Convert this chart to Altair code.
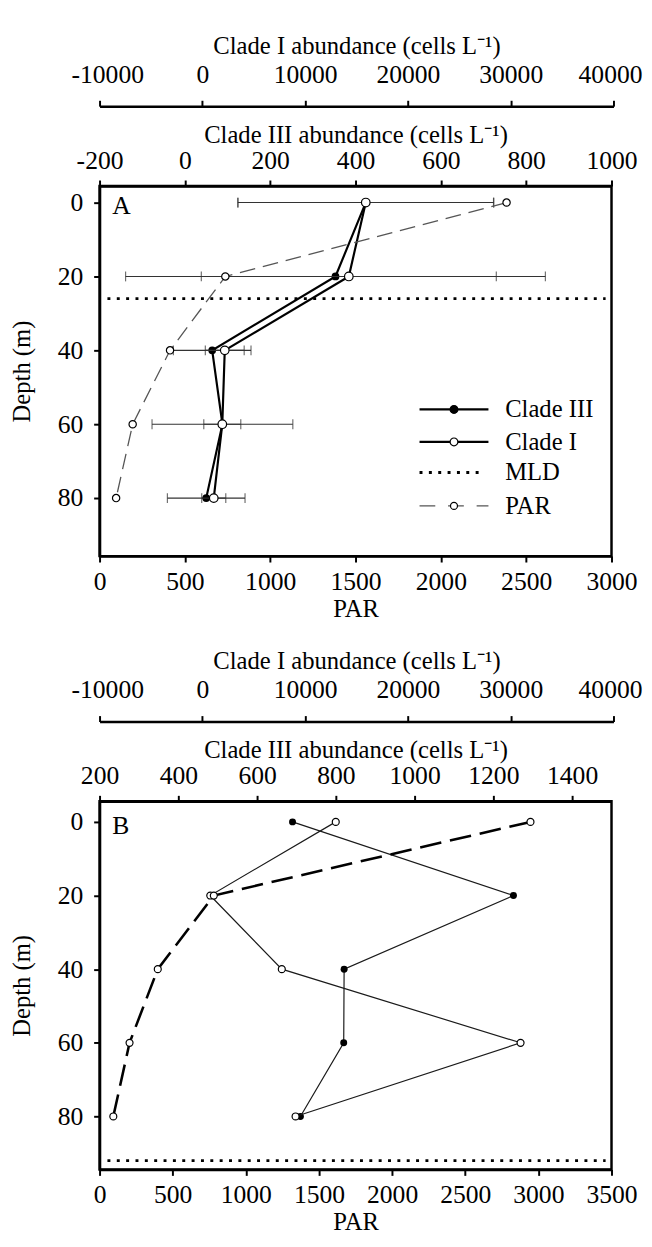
import altair as alt
import pandas as pd

# ---------------- data ----------------
depth = [0, 20, 40, 60, 80]

# Panel A
a_clade3 = [424, 353, 64, 88, 50]
a_clade3_sd = [300, 492, 91, 165, 91]
a_clade1 = [15900, 14250, 2180, 1940, 1110]
a_clade1_sd = [12430, 14350, 1890, 1800, 1170]
a_par = [2385, 737, 413, 194, 97]
a_mld = [26]

# Panel B
b_clade3 = [690, 1251, 821, 820, 710]
b_clade1 = [12980, 770, 7730, 30960, 9070]
b_par = [2946, 781, 398, 205, 94]
b_mld = [92]

clade1_ticks = [-10000, 0, 10000, 20000, 30000, 40000]
a_clade3_ticks = [-200, 0, 200, 400, 600, 800, 1000]
b_clade3_ticks = [200, 400, 600, 800, 1000, 1200, 1400]
a_par_ticks = [0, 500, 1000, 1500, 2000, 2500, 3000]
b_par_ticks = [0, 500, 1000, 1500, 2000, 2500, 3000, 3500]
depth_ticks = [0, 20, 40, 60, 80]
legend_names = ["Clade III", "Clade I", "MLD", "PAR"]

FONT = "Liberation Serif"
LSIZE = 26
TSIZE = 25
W = 520
CI_RANGE = 522
LBL = "'' + datum.value"


def panel(letter, letter_y, c3, c3sd, c1, c1sd, par, mld, c3dom, c3ticks, pardom,
          particks, ydom, height, thin, legend):
    ysc = alt.Scale(domain=ydom, reverse=True, nice=False, zero=False)
    yax = alt.Axis(values=depth_ticks, title="Depth (m)", labelExpr=LBL,
                   titlePadding=23, labelPadding=11)
    Y = alt.Y("depth:Q", scale=ysc, axis=yax)

    c3sc = alt.Scale(domain=c3dom, nice=False, zero=False)
    c3ax = alt.Axis(orient="top", values=c3ticks, labelExpr=LBL, labelPadding=7,
                    title="Clade III abundance (cells L\u207b\u00b9)", titlePadding=0)
    c1sc = alt.Scale(domain=[-10000, 40000], range=[0, CI_RANGE], nice=False, zero=False)
    c1ax = alt.Axis(orient="top", values=clade1_ticks, labelExpr=LBL, offset=81,
                    labelPadding=13, labelFlush=True, labelFlushOffset=29,
                    title="Clade I abundance (cells L\u207b\u00b9)", titlePadding=4)
    parsc = alt.Scale(domain=pardom, nice=False, zero=False)
    parax = alt.Axis(orient="bottom", values=particks, labelExpr=LBL, title="PAR",
                     labelPadding=7, titlePadding=2)

    lw = 1.2 if thin else 2.2
    lcol = "#1a1a1a" if thin else "black"
    msize = 50 if thin else 62

    # Clade III layer
    d3 = pd.DataFrame({"depth": depth, "v": c3})
    l3 = [alt.Chart(d3).mark_line(color=lcol, strokeWidth=lw).encode(
        x=alt.X("v:Q", scale=c3sc, axis=c3ax), y=Y, order="depth:Q")]
    if c3sd is not None:
        d3["lo"] = [v - s for v, s in zip(c3, c3sd)]
        d3["hi"] = [v + s for v, s in zip(c3, c3sd)]
        l3 = [
            alt.Chart(d3).mark_rule(color="#333", strokeWidth=1.1).encode(
                x=alt.X("lo:Q", scale=c3sc, axis=c3ax), x2="hi:Q", y=Y),
            alt.Chart(d3).mark_tick(orient="vertical", color="#333", size=10, thickness=1.2).encode(
                x=alt.X("lo:Q", scale=c3sc, axis=c3ax), y=Y),
            alt.Chart(d3).mark_tick(orient="vertical", color="#333", size=10, thickness=1.2).encode(
                x=alt.X("hi:Q", scale=c3sc, axis=c3ax), y=Y),
        ] + l3
    l3.append(alt.Chart(d3).mark_point(shape="circle", filled=True, color="black",
                                       size=msize, opacity=1).encode(
        x=alt.X("v:Q", scale=c3sc, axis=c3ax), y=Y))
    layer3 = alt.layer(*l3)

    # Clade I layer
    d1 = pd.DataFrame({"depth": depth, "v": c1})
    l1 = [alt.Chart(d1).mark_line(color=lcol, strokeWidth=lw).encode(
        x=alt.X("v:Q", scale=c1sc, axis=c1ax), y=Y, order="depth:Q")]
    if c1sd is not None:
        d1["lo"] = [v - s for v, s in zip(c1, c1sd)]
        d1["hi"] = [v + s for v, s in zip(c1, c1sd)]
        l1 = [
            alt.Chart(d1).mark_rule(color="#333", strokeWidth=1.1).encode(
                x=alt.X("lo:Q", scale=c1sc, axis=c1ax), x2="hi:Q", y=Y),
            alt.Chart(d1).mark_tick(orient="vertical", color="#333", size=10, thickness=1.2).encode(
                x=alt.X("lo:Q", scale=c1sc, axis=c1ax), y=Y),
            alt.Chart(d1).mark_tick(orient="vertical", color="#333", size=10, thickness=1.2).encode(
                x=alt.X("hi:Q", scale=c1sc, axis=c1ax), y=Y),
        ] + l1
    l1.append(alt.Chart(d1).mark_point(shape="circle", filled=True, fill="white",
                                       stroke="black", strokeWidth=1.2,
                                       size=msize + 14 if not thin else msize,
                                       opacity=1).encode(
        x=alt.X("v:Q", scale=c1sc, axis=c1ax), y=Y))
    layer1 = alt.layer(*l1)

    # PAR layer
    dp = pd.DataFrame({"depth": depth, "v": par})
    if thin:
        pline = alt.Chart(dp).mark_line(color="black", strokeWidth=2.6, strokeDash=[22, 9])
    else:
        pline = alt.Chart(dp).mark_line(color="#555", strokeWidth=1.3, strokeDash=[16, 8])
    layerp = alt.layer(
        pline.encode(x=alt.X("v:Q", scale=parsc, axis=parax), y=Y, order="depth:Q"),
        alt.Chart(dp).mark_point(shape="circle", filled=True, fill="white", stroke="black",
                                 strokeWidth=1.2, size=55 if not thin else 50,
                                 opacity=1).encode(
            x=alt.X("v:Q", scale=parsc, axis=parax), y=Y),
    )

    # MLD
    dm = pd.DataFrame({"depth": mld})
    mldl = alt.Chart(dm).mark_rule(color="black", strokeWidth=3, strokeDash=[3, 6.5]).encode(
        x=alt.value(8), x2=alt.value(W - 6), y=Y)

    lab = alt.Chart(pd.DataFrame({"t": [letter]})).mark_text(
        font=FONT, fontSize=LSIZE, align="left", baseline="middle", color="black").encode(
        x=alt.value(13), y=alt.value(letter_y), text="t:N")

    layers = [layer3, layer1, layerp, mldl, lab]

    if legend:
        x0, x1, xt = 325, 395, 412
        rows = [227, 260, 291, 325]
        for i, name in enumerate(legend_names):
            dl = pd.DataFrame({"t": [name]})
            yv = alt.value(rows[i])
            if name == "MLD":
                layers.append(alt.Chart(dl).mark_rule(color="black", strokeWidth=3,
                                                      strokeDash=[3, 6.5]).encode(
                    x=alt.value(x0), x2=alt.value(x1 - 5), y=yv))
            elif name == "PAR":
                layers.append(alt.Chart(dl).mark_rule(color="#555", strokeWidth=1.3,
                                                      strokeDash=[16, 13]).encode(
                    x=alt.value(x0), x2=alt.value(x1), y=yv))
            else:
                layers.append(alt.Chart(dl).mark_rule(color="black", strokeWidth=2.2).encode(
                    x=alt.value(x0), x2=alt.value(x1), y=yv))
            if name != "MLD":
                filled = name == "Clade III"
                layers.append(alt.Chart(dl).mark_point(
                    shape="circle", filled=True, fill="black" if filled else "white",
                    stroke="black", strokeWidth=1.2, size=62 if name != "PAR" else 50,
                    opacity=1).encode(x=alt.value((x0 + x1) / 2), y=yv))
            layers.append(alt.Chart(dl).mark_text(
                font=FONT, fontSize=25, align="left", baseline="middle", color="black").encode(
                x=alt.value(xt), y=yv, text="t:N"))

    return alt.layer(*layers).resolve_scale(x="independent").properties(
        width=W, height=height)


pa = panel("A", 21, a_clade3, a_clade3_sd, a_clade1, a_clade1_sd, a_par, a_mld,
           [-200, 1000], a_clade3_ticks, [0, 3000], a_par_ticks,
           [-4.5, 95.7], 376, False, True)
pb = panel("B", 25, b_clade3, None, b_clade1, None, b_par, b_mld,
           [200, 1500], b_clade3_ticks, [0, 3500], b_par_ticks,
           [-5.6, 94.4], 374, True, False)

chart = alt.vconcat(pa, pb, spacing=24).configure(
    padding={"left": 0, "right": 0, "top": 14, "bottom": 0}
).configure_view(
    stroke="black", strokeWidth=2.5
).configure_axis(
    labelFont=FONT, labelFontSize=LSIZE, titleFont=FONT, titleFontSize=TSIZE,
    titleFontWeight="normal", labelColor="black", titleColor="black",
    domainColor="black", domainWidth=2.5, tickColor="black", tickWidth=2,
    tickSize=6, grid=False, labelFlush=False, labelOverlap=False
)

chart.save("out.html", embed_options={"renderer": "svg", "actions": False})
